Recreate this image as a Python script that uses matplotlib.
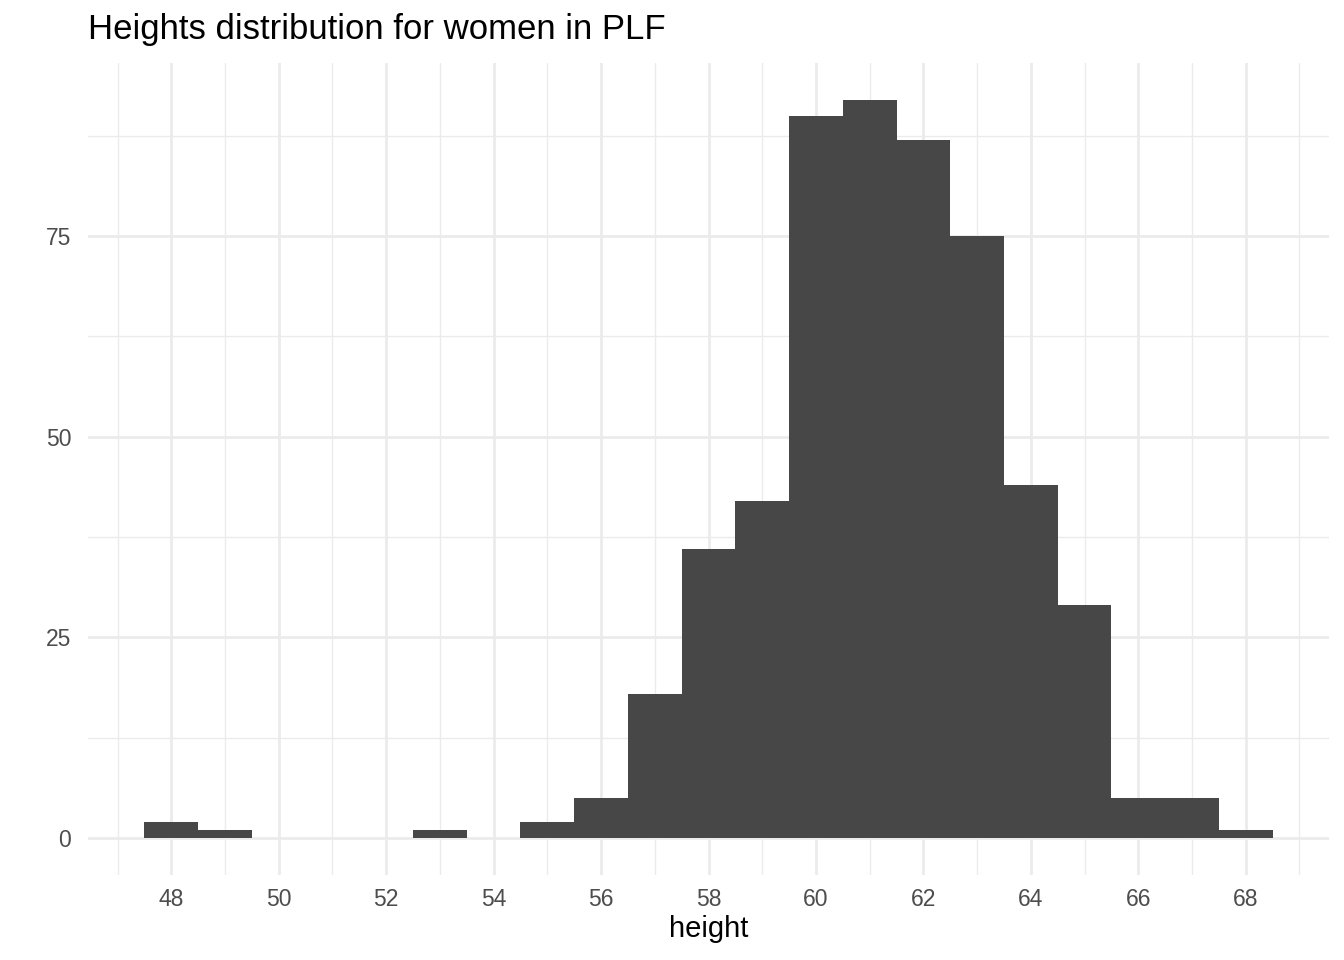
import numpy as np
import matplotlib
matplotlib.use("Agg")
import matplotlib.pyplot as plt
from matplotlib.ticker import MultipleLocator

plt.rcParams["font.family"] = ["Liberation Sans", "DejaVu Sans"]

# ── data: one-inch bins centred on whole inches ─────────────────────
height_bins = [48, 49, 50, 51, 52, 53, 54, 55, 56, 57, 58,
               59, 60, 61, 62, 63, 64, 65, 66, 67, 68]
counts = [2, 1, 0, 0, 0, 1, 0, 2, 5, 18, 36,
          42, 90, 92, 87, 75, 44, 29, 5, 5, 1]
x_ticks = [48, 50, 52, 54, 56, 58, 60, 62, 64, 66, 68]
y_ticks = [0, 25, 50, 75]

fig = plt.figure(figsize=(13.44, 9.6), dpi=100)
ax = fig.add_axes([88 / 1344, 1 - 875 / 960, (1329 - 88) / 1344, (875 - 62.6) / 960])

ax.bar(height_bins, counts, width=1.0, color="#474747", linewidth=0, zorder=3)

# ggplot-style expansion (5% each side)
lo, hi = min(height_bins) - 0.5, max(height_bins) + 0.5
pad = (hi - lo) * 0.05
ax.set_xlim(lo - pad, hi + pad)
ymax = max(counts)
ax.set_ylim(-ymax * 0.05, ymax * 1.05)

ax.set_xticks(x_ticks)
ax.set_yticks(y_ticks)
ax.xaxis.set_minor_locator(MultipleLocator(1))
ax.yaxis.set_minor_locator(MultipleLocator(12.5))

ax.grid(True, which="major", color="#EBEBEB", linewidth=2.0, zorder=0)
ax.grid(True, which="minor", color="#EBEBEB", linewidth=1.0, zorder=0)
ax.set_axisbelow(True)

for s in ax.spines.values():
    s.set_visible(False)
ax.tick_params(which="both", length=0)
ax.tick_params(axis="both", labelsize=16.5, labelcolor="#4D4D4D")
ax.tick_params(axis="x", pad=9)
ax.tick_params(axis="y", pad=12)

ax.set_xlabel("height", fontsize=21, color="black", labelpad=3)
fig.text(88 / 1344, 1 - 29 / 960, "Heights distribution for women in PLF",
         fontsize=25, color="black", ha="left", va="center")

fig.savefig("out.png", dpi=100)
